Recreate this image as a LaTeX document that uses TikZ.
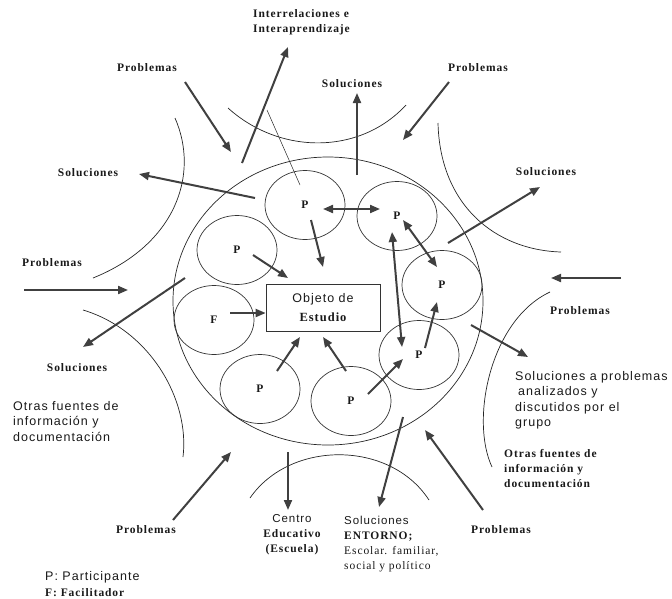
\documentclass[tikz,border=0pt]{standalone}
\usepackage{fontspec}
\setmainfont{Liberation Serif}
\setsansfont{Liberation Sans}
\newfontfamily\lblfont[LetterSpace=8]{Liberation Serif}
\newfontfamily\txtfont[LetterSpace=8]{Liberation Sans}
\usetikzlibrary{shapes.geometric}
\usetikzlibrary{arrows.meta}

\begin{document}
\begin{tikzpicture}[x=1pt,y=-1pt]
		\tikzstyle{every node}=[inner sep=0pt, text=black!90];
		\tikzstyle{lbl}=[font=\lblfont\bfseries\fontsize{11.5}{15}\selectfont];
		\tikzstyle{txt}=[font=\txtfont\fontsize{12.5}{15.5}\selectfont];
		\tikzstyle{part}=[draw=black!80, line width=0.7pt, shape=ellipse, minimum width=80pt, minimum height=69pt, lbl];
		\tikzstyle{arr}=[draw=black!75, line width=2pt, >={Triangle[length=10pt,width=8pt]}, ->];
		\tikzstyle{arrs}=[arr, <->];
		\tikzstyle{thin}=[draw=black!85, line width=0.7pt];
		\useasboundingbox (0,0) rectangle (672,598);
		\draw[thin] (328,301) ellipse [x radius=155pt, y radius=144pt];
		\path (305,205) node[part] (p1) {P};
		\path (397,216) node[part] (p2) {P};
		\path (237,250) node[part] (p3) {P};
		\path (214,320) node[part] (f)  {F};
		\path (442,285) node[part] (p5) {P};
		\path (419,355) node[part] (p6) {P};
		\path (260,389) node[part] (p7) {P};
		\path (351,401) node[part] (p8) {P};
		\path (323,308) node[draw=black!80, line width=0.7pt, minimum width=114pt, minimum height=47pt, align=center, font=\fontsize{12.5}{19}\selectfont] (obj) {{\txtfont Objeto de}\\{\lblfont\bfseries Estudio}};
		\path (253,9) node[lbl, anchor=north west, align=left] (inter) {Interrelaciones e\\Interaprendizaje};
		\path (147,68) node[lbl] (probTL) {Problemas};
		\path (88,173) node[lbl] (solTL) {Soluciones};
		\path (352,84) node[lbl] (solT) {Soluciones};
		\path (478,68) node[lbl] (probTR) {Problemas};
		\path (546,172) node[lbl] (solTR) {Soluciones};
		\path (52,263) node[lbl] (probL) {Problemas};
		\path (580,311) node[lbl] (probR) {Problemas};
		\path (77,368) node[lbl] (solL) {Soluciones};
		\path (146,530) node[lbl] (probBL) {Problemas};
		\path (501,530) node[lbl] (probBR) {Problemas};
		\path (13,401) node[txt, anchor=north west, align=left] (otrasL) {Otras fuentes de\\información y\\documentación};
		\path (504,449) node[lbl, anchor=north west, align=left] (otrasR) {Otras fuentes de\\información y\\documentación};
		\path (515,371) node[txt, anchor=north west, align=left] (solR) {Soluciones a problemas\\\hspace{3pt}analizados y\\discutidos por el\\grupo};
		\path (292,514) node[lbl, anchor=north, align=center] (centro) {{\txtfont\mdseries Centro}\\Educativo\\(Escuela)};
		\path (344,516) node[lbl, anchor=north west, align=left] (entorno) {{\txtfont\mdseries Soluciones}\\ENTORNO;\\{\mdseries Escolar. familiar,}\\{\mdseries social y político}};
		\path (45,571) node[anchor=north west, align=left, font=\fontsize{12.5}{16}\selectfont] (leyenda) {{\txtfont P: Participante}\\{\lblfont\bfseries\fontsize{11.5}{16}\selectfont F: Facilitador}};
		\draw[thin] (175,118) .. controls (200,175) and (175,245) .. (93,278)
		(228,108) .. controls (280,155) and (360,155) .. (406,105)
		(438,123) .. controls (440,205) and (495,250) .. (561,252)
		(550,292) .. controls (490,320) and (470,420) .. (492,467)
		(250,498) .. controls (290,440) and (390,440) .. (429,500)
		(83,310) .. controls (150,330) and (190,400) .. (183,457);
		\path (300,185) coordinate (hilo0) (267,110) coordinate (hilo1);
		\draw[thin, line width=0.5pt] (hilo0) -- (hilo1);
		\path (242,163) coordinate (i0) (288,47) coordinate (i1)
		(185,82) coordinate (ptl0) (231,152) coordinate (ptl1)
		(255,198) coordinate (stl0) (139,174) coordinate (stl1)
		(357,175) coordinate (st0) (357,93) coordinate (st1)
		(449,82) coordinate (ptr0) (403,140) coordinate (ptr1)
		(448,243) coordinate (str0) (540,187) coordinate (str1)
		(621,278) coordinate (pr0) (551,278) coordinate (pr1)
		(471,325) coordinate (sr0) (528,357) coordinate (sr1)
		(483,510) coordinate (pbr0) (425,430) coordinate (pbr1)
		(403,417) coordinate (se0) (379,507) coordinate (se1)
		(288,452) coordinate (ce0) (288,510) coordinate (ce1)
		(173,520) coordinate (pbl0) (231,452) coordinate (pbl1)
		(185,278) coordinate (sl0) (83,347) coordinate (sl1)
		(24,290) coordinate (pl0) (128,290) coordinate (pl1);
		\draw[arr] (i0) -- (i1);
		\draw[arr] (ptl0) -- (ptl1);
		\draw[arr] (stl0) -- (stl1);
		\draw[arr] (st0) -- (st1);
		\draw[arr] (ptr0) -- (ptr1);
		\draw[arr] (str0) -- (str1);
		\draw[arr] (pr0) -- (pr1);
		\draw[arr] (sr0) -- (sr1);
		\draw[arr] (pbr0) -- (pbr1);
		\draw[arr] (se0) -- (se1);
		\draw[arr] (ce0) -- (ce1);
		\draw[arr] (pbl0) -- (pbl1);
		\draw[arr] (sl0) -- (sl1);
		\draw[arr] (pl0) -- (pl1);
		\path (311,220) coordinate (a1) (323,267) coordinate (b1)
		(323,209) coordinate (a2) (380,209) coordinate (b2)
		(253,255) coordinate (a3) (288,278) coordinate (b3)
		(230,313) coordinate (a4)
		(277,371) coordinate (a5) (300,337) coordinate (b5)
		(346,371) coordinate (a6) (323,337) coordinate (b6)
		(368,394) coordinate (a7) (403,359) coordinate (b7)
		(425,348) coordinate (a8) (437,302) coordinate (b8)
		(392,232) coordinate (a9) (402,347) coordinate (b9)
		(403,220) coordinate (a10) (437,267) coordinate (b10);
		\draw[arr] (a1) -- (b1);
		\draw[arrs] (a2) -- (b2);
		\draw[arr] (a3) -- (b3);
		\draw[arr] (a4) -- (a4 -| obj.west);
		\draw[arr] (a5) -- (b5);
		\draw[arr] (a6) -- (b6);
		\draw[arr] (a7) -- (b7);
		\draw[arr] (a8) -- (b8);
		\draw[arrs] (a9) -- (b9);
		\draw[arrs] (a10) -- (b10);
		\end{tikzpicture}
\end{document}
